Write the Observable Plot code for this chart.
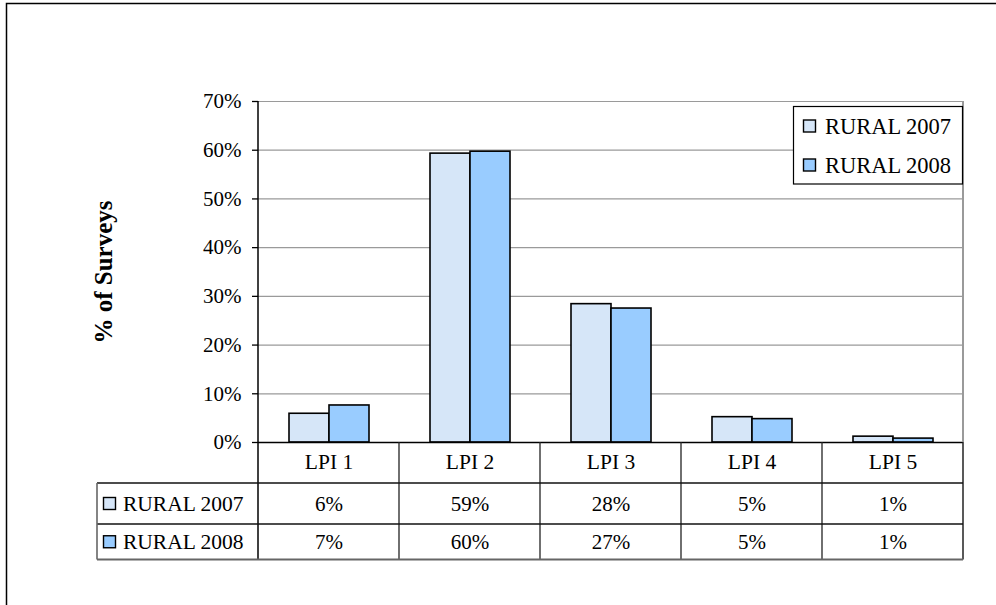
<!DOCTYPE html>
<html><head><meta charset="utf-8">
<script src="https://cdn.jsdelivr.net/npm/d3@7"></script>
<script src="https://cdn.jsdelivr.net/npm/@observablehq/plot@0.6"></script>
<style>
html,body{margin:0;padding:0;background:#fff}
#chart{position:relative;width:996px;height:605px;overflow:hidden}
</style>
</head><body><div id="chart"></div>
<script>
const categories = ["LPI 1", "LPI 2", "LPI 3", "LPI 4", "LPI 5"];
const seriesNames = ["RURAL 2007", "RURAL 2008"];
const rural2007 = [0.059, 0.593, 0.284, 0.052, 0.012];
const rural2008 = [0.076, 0.597, 0.275, 0.048, 0.008];
const tableLabels2007 = ["6%", "59%", "28%", "5%", "1%"];
const tableLabels2008 = ["7%", "60%", "27%", "5%", "1%"];
const yTicks = [0, 0.1, 0.2, 0.3, 0.4, 0.5, 0.6, 0.7];
const seriesColors = ["#d6e6f8", "#99ccff"];
const yTitle = "% of Surveys";

const data = categories.flatMap((c, i) => [
  {cat: c, series: seriesNames[0], value: rural2007[i]},
  {cat: c, series: seriesNames[1], value: rural2008[i]}
]);

const FONT = "Liberation Serif, Times New Roman, serif";

const chart = Plot.plot({
  width: 996,
  height: 605,
  marginLeft: 257,
  marginRight: 32,
  marginTop: 101,
  marginBottom: 163,
  style: {fontFamily: FONT, fontSize: "21px", color: "#000", background: "#fff", overflow: "visible"},
  fx: {domain: categories, padding: 0, axis: null},
  x: {domain: seriesNames, paddingInner: 0, paddingOuter: 0.745, axis: null},
  y: {domain: [0, 0.7]},
  color: {domain: seriesNames, range: seriesColors},
  marks: [
    Plot.gridY(yTicks.filter(t => t > 0), {stroke: "#9a9a9a", strokeOpacity: 1, strokeWidth: 1.2}),
    Plot.axisY({ticks: yTicks, tickFormat: d3.format(".0%"), tickSize: 6, tickPadding: 11, fontSize: 21, label: null, stroke: "#000", strokeWidth: 1.3}),
    Plot.barY(data, {fx: "cat", x: "series", y: "value", fill: "series", stroke: "#000", strokeWidth: 1.6}),
    Plot.ruleY([0], {stroke: "#000", strokeWidth: 1.5}),
    Plot.text(categories, {fx: d => d, text: d => d, frameAnchor: "bottom", lineAnchor: "middle", dy: 19.5, fontSize: 21.5}),
    Plot.text(tableLabels2007, {fx: (d, i) => categories[i], text: d => d, frameAnchor: "bottom", lineAnchor: "middle", dy: 62, fontSize: 21}),
    Plot.text(tableLabels2008, {fx: (d, i) => categories[i], text: d => d, frameAnchor: "bottom", lineAnchor: "middle", dy: 99.5, fontSize: 21}),
    Plot.text([yTitle], {fx: () => categories[0], text: d => d, frameAnchor: "left", textAnchor: "middle", lineAnchor: "middle", rotate: -90, dx: -155, fontWeight: "bold", fontSize: 25})
  ]
});

document.getElementById("chart").appendChild(chart);

// decorations: frame, table grid, legend, row headers
const svg = d3.select(chart);
const fx = chart.scale("fx");
const y = chart.scale("y");
const bw = fx.bandwidth;
const x0 = fx.apply(categories[0]);
const x1 = fx.apply(categories[categories.length - 1]) + bw;
const yTop = y.apply(0.7);
const yBase = y.apply(0);
const rowTops = [yBase, yBase + 41, yBase + 82, yBase + 117.5];
const tableLeft = 97;

const g = svg.append("g").attr("fill", "none");
// outer border
g.append("rect").attr("x", 6.5).attr("y", 3.5).attr("width", 1000).attr("height", 700)
  .attr("stroke", "#000").attr("stroke-width", 1.5);
// plot area right border (gray)
g.append("line").attr("x1", x1).attr("x2", x1).attr("y1", yTop).attr("y2", yBase)
  .attr("stroke", "#9a9a9a").attr("stroke-width", 2);
// axis line
g.append("line").attr("x1", x0).attr("x2", x0).attr("y1", yTop).attr("y2", rowTops[3])
  .attr("stroke", "#000").attr("stroke-width", 1.5);
// table verticals
categories.forEach((c, i) => {
  if (i === 0) return;
  const xx = fx.apply(c);
  g.append("line").attr("x1", xx).attr("x2", xx).attr("y1", yBase).attr("y2", rowTops[3])
    .attr("stroke", "#222").attr("stroke-width", 1.3);
});
g.append("line").attr("x1", x1).attr("x2", x1).attr("y1", yBase).attr("y2", rowTops[3])
  .attr("stroke", "#222").attr("stroke-width", 1.5);
// table horizontals
[1, 2, 3].forEach(k => {
  g.append("line").attr("x1", tableLeft).attr("x2", x1).attr("y1", rowTops[k]).attr("y2", rowTops[k])
    .attr("stroke", k === 3 ? "#666" : "#111").attr("stroke-width", k === 3 ? 2 : 1.4);
});
g.append("line").attr("x1", tableLeft).attr("x2", tableLeft).attr("y1", rowTops[1]).attr("y2", rowTops[3])
  .attr("stroke", "#666").attr("stroke-width", 1.6);

// row headers
seriesNames.forEach((s, i) => {
  const cy = (rowTops[i + 1] + rowTops[i + 2]) / 2;
  svg.append("rect").attr("x", 103.5).attr("y", cy - 6).attr("width", 12).attr("height", 12)
    .attr("fill", seriesColors[i]).attr("stroke", "#000").attr("stroke-width", 1.4);
  svg.append("text").attr("x", 123).attr("y", cy).attr("dy", "0.35em")
    .attr("text-anchor", "start")
    .attr("font-family", FONT).attr("font-size", 21.5).attr("fill", "#000").text(s);
});

// legend
const lg = svg.append("g");
lg.append("rect").attr("x", 793.5).attr("y", 106.5).attr("width", 169).attr("height", 77.5)
  .attr("fill", "#fff").attr("stroke", "#000").attr("stroke-width", 1.2);
seriesNames.forEach((s, i) => {
  const cy = 126 + i * 39;
  lg.append("rect").attr("x", 803.5).attr("y", cy - 6).attr("width", 12).attr("height", 12)
    .attr("fill", seriesColors[i]).attr("stroke", "#000").attr("stroke-width", 1.4);
  lg.append("text").attr("x", 825).attr("y", cy).attr("dy", "0.35em")
    .attr("text-anchor", "start")
    .attr("font-family", FONT).attr("font-size", 22.5).attr("fill", "#000").text(s);
});
</script>
</body></html>
